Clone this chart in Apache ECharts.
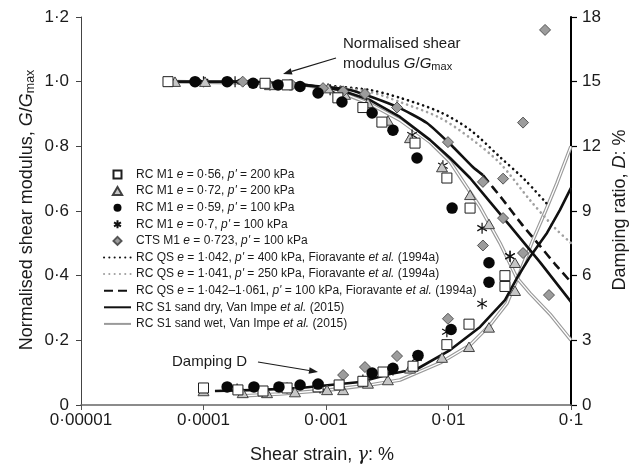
<!DOCTYPE html>
<html>
<head>
<meta charset="utf-8">
<script src="https://cdn.jsdelivr.net/npm/echarts@6/dist/echarts.min.js"></script>
<style>
  html, body { margin: 0; padding: 0; background: #fff; }
  #chart { width: 632px; height: 466px; }
</style>
</head>
<body>
<div id="chart"></div>
<script>
// ---- axis ticks ----
const strainTicks = [0.00001, 0.0001, 0.001, 0.01, 0.1];
const modulusTicks = [0, 0.2, 0.4, 0.6, 0.8, 1.0, 1.2];
const dampingTicks = [0, 3, 6, 9, 12, 15, 18];

// ---- measured points: [shear strain %, G/Gmax] and [shear strain %, D %] ----
const m056G = [[5.13e-5,1.0],[3.18e-4,0.995],[4.81e-4,0.99],[1.25e-3,0.95],[2.0e-3,0.92],[2.86e-3,0.875],[5.33e-3,0.81],[9.7e-3,0.702],[1.5e-2,0.609],[2.89e-2,0.40]];
const m056D = [[1.0e-4,0.79],[1.91e-4,0.70],[3.06e-4,0.65],[4.81e-4,0.79],[8.61e-4,0.84],[1.28e-3,0.93],[2.0e-3,1.1],[2.92e-3,1.53],[5.13e-3,1.8],[9.7e-3,2.8],[1.47e-2,3.75],[2.89e-2,5.5]];

const m072G = [[5.85e-5,1.0],[1.03e-4,1.0],[3.49e-4,0.99],[1.04e-3,0.98],[1.43e-3,0.96],[2.2e-3,0.934],[3.2e-3,0.88],[4.85e-3,0.826],[8.85e-3,0.736],[1.5e-2,0.65],[2.14e-2,0.56],[3.49e-2,0.44]];
const m072D = [[1.0e-4,0.65],[2.09e-4,0.56],[3.3e-4,0.56],[5.58e-4,0.6],[1.02e-3,0.7],[1.38e-3,0.7],[2.2e-3,1.0],[3.2e-3,1.16],[4.85e-3,1.7],[8.85e-3,2.2],[1.47e-2,2.7],[2.14e-2,3.6],[3.49e-2,5.3]];

const m059G = [[8.53e-5,1.0],[1.56e-4,1.0],[2.54e-4,0.995],[4.06e-4,0.99],[6.14e-4,0.985],[8.61e-4,0.965],[1.35e-3,0.937],[2.38e-3,0.903],[3.52e-3,0.85],[5.53e-3,0.764],[1.07e-2,0.609],[2.14e-2,0.44]];
const m059D = [[1.56e-4,0.84],[2.58e-4,0.84],[4.13e-4,0.84],[6.14e-4,0.93],[8.61e-4,0.97],[2.38e-3,1.48],[3.52e-3,1.7],[5.64e-3,2.3],[1.05e-2,3.5],[2.14e-2,5.7]];

const m07G = [[1.0e-4,1.0],[1.81e-4,1.0],[3.49e-4,0.99],[5.09e-4,0.99],[1.08e-3,0.975],[5.04e-3,0.835],[9.0e-3,0.74],[1.88e-2,0.547],[3.18e-2,0.46]];
const m07D = [[1.88e-4,0.74],[4.81e-4,0.79],[8.94e-4,0.79],[2.0e-3,1.16],[3.52e-3,1.62],[5.53e-3,2.18],[9.7e-3,3.4],[1.88e-2,4.7],[3.18e-2,6.9]];

const ctsG = [[2.09e-4,1.0],[5.28e-4,0.99],[9.46e-4,0.98],[1.38e-3,0.97],[2.08e-3,0.962],[3.8e-3,0.92],[9.9e-3,0.813],[1.91e-2,0.69],[2.79e-2,0.578],[4.06e-2,0.47],[6.61e-2,0.34]];
const ctsD = [[1.38e-3,1.39],[2.08e-3,1.76],[3.8e-3,2.27],[9.9e-3,4.0],[1.91e-2,7.4],[2.79e-2,10.5],[4.06e-2,13.1],[6.14e-2,17.4]];

// ---- published curves ----
const qs400G = [[1.08e-3,0.987],[2.29e-3,0.974],[4.02e-3,0.95],[8.53e-3,0.906],[1.5e-2,0.851],[2.63e-2,0.767],[4.21e-2,0.696],[6.37e-2,0.622]];
const qs250G = [[1.08e-3,0.984],[2.29e-3,0.968],[4.02e-3,0.937],[8.53e-3,0.888],[1.5e-2,0.826],[2.63e-2,0.748],[4.62e-2,0.634],[7.4e-2,0.547],[0.1,0.501]];
const qs100GLow = [[6.14e-4,0.99],[1.57e-3,0.974],[3.8e-3,0.922],[6.67e-3,0.872],[1.09e-2,0.798],[1.58e-2,0.736],[1.91e-2,0.711]];
const qs100GHigh = [[1.91e-2,0.711],[2.79e-2,0.634],[4.06e-2,0.554],[5.58e-2,0.492],[7.4e-2,0.436],[0.1,0.38]];
const s1dryG = [[5.85e-5,1.0],[2.4e-4,1.0],[6.14e-4,0.993],[1.3e-3,0.974],[2.29e-3,0.943],[4.02e-3,0.891],[7.06e-3,0.82],[1.03e-2,0.764],[1.5e-2,0.702],[2.18e-2,0.628],[3.18e-2,0.554],[5.58e-2,0.442],[0.1,0.319]];
const s1wetG = [[5.85e-5,1.0],[6.14e-4,0.993],[1.3e-3,0.968],[2.29e-3,0.931],[4.02e-3,0.881],[7.06e-3,0.813],[1.03e-2,0.752],[1.29e-2,0.696],[1.81e-2,0.612],[2.63e-2,0.501],[3.62e-2,0.393],[4.62e-2,0.346],[6.74e-2,0.281],[0.1,0.201]];
const s1dryD = [[1.24e-4,0.65],[2.89e-4,0.70],[6.14e-4,0.79],[1.08e-3,0.93],[1.9e-3,1.07],[3.33e-3,1.44],[5.53e-3,1.67],[1.03e-2,2.55],[1.81e-2,3.62],[2.89e-2,4.87],[3.62e-2,5.89],[4.62e-2,6.87],[6.37e-2,7.98],[8.13e-2,9.05],[0.1,10.07]];
const s1wetD = [[1.99e-4,0.42],[4.21e-4,0.51],[1.08e-3,0.70],[2.29e-3,0.93],[4.02e-3,1.16],[8.53e-3,1.95],[1.5e-2,2.78],[2.18e-2,3.71],[3.01e-2,4.73],[3.84e-2,6.17],[4.89e-2,7.65],[6.14e-2,8.95],[7.69e-2,10.3],[0.1,12.0]];

// ---- legend labels ----
const legendNames = ['m056','m072','m059','m07','cts','qs400','qs250','qs100','s1dry','s1wet'];
const legendLabels = {
  m056: "RC M1 {i|e} = 0·56, {i|p'} = 200 kPa",
  m072: "RC M1 {i|e} = 0·72, {i|p'} = 200 kPa",
  m059: "RC M1 {i|e} = 0·59, {i|p'} = 100 kPa",
  m07:  "RC M1 {i|e} = 0·7, {i|p'} = 100 kPa",
  cts:  "CTS M1 {i|e} = 0·723, {i|p'} = 100 kPa",
  qs400: "RC QS {i|e} = 1·042, {i|p'} = 400 kPa, Fioravante {i|et al.} (1994a)",
  qs250: "RC QS {i|e} = 1·041, {i|p'} = 250 kPa, Fioravante {i|et al.} (1994a)",
  qs100: "RC QS {i|e} = 1·042–1·061, {i|p'} = 100 kPa, Fioravante {i|et al.} (1994a)",
  s1dry: "RC S1 sand dry, Van Impe {i|et al.} (2015)",
  s1wet: "RC S1 sand wet, Van Impe {i|et al.} (2015)"
};

const FONT = '"Liberation Sans", Arial, Helvetica, sans-serif';
const INK = '#1a1a1a';
// marker outlines as paths so that they keep their proportions everywhere
const SQUARE = 'path://M0,0H1V1H0Z';
const TRIANGLE = 'path://M0,0L0.58,1L-0.58,1Z';
const DIAMOND = 'path://M0,-1L1,0L0,1L-1,0Z';
const STAR = 'path://M0,-1L0,1M-0.866,-0.5L0.866,0.5M-0.866,0.5L0.866,-0.5';

function dotFmt(v) {
  return v === 0 ? '0' : v.toFixed(1).replace('.', '·');
}
function strainFmt(v) {
  const e = Math.round(Math.log10(v));
  return '0·' + '0'.repeat(-e - 1) + '1';
}

function pointSeries(name, data, axis, symbol, size, style, z) {
  return {
    name, type: 'scatter', data, yAxisIndex: axis, symbol, symbolSize: size,
    symbolKeepAspect: true, itemStyle: Object.assign({ opacity: 1 }, style), z, silent: true
  };
}
function curve(name, data, axis, lineStyle, z, smooth) {
  return {
    name, type: 'line', data, yAxisIndex: axis, symbol: 'none', showSymbol: false,
    lineStyle, itemStyle: { color: lineStyle.color, opacity: 0 },
    z, smooth: smooth || false, silent: true, animation: false
  };
}

const sqStyle = { color: '#ffffff', borderColor: '#1e1e1e', borderWidth: 1 };
const triStyle = { color: '#c6c6c6', borderColor: '#404040', borderWidth: 1 };
const cirStyle = { color: '#080808' };
const starStyle = { color: 'rgba(0,0,0,0)', borderColor: '#111', borderWidth: 1.2 };
const diaStyle = { color: '#9c9c9c', borderColor: '#555', borderWidth: 1 };

const dotBlack = { color: '#111', width: 2.6, type: [0.1, 5.2], cap: 'round' };
const dotGrey = { color: '#a0a0a0', width: 2.6, type: [0.1, 5.2], cap: 'round' };
const dashBlack = { color: '#111', width: 2.6, type: [9, 5] };
const solidBlack = { color: '#111', width: 2.6 };
const wetOuter = { color: '#9a9a9a', width: 3.6 };
const wetCore = { color: '#ffffff', width: 1.3 };

const series = [
  curve('qs400', qs400G, 0, dotBlack, 2, 0.3),
  curve('qs250', qs250G, 0, dotGrey, 2, 0.3),
  curve('qs100', qs100GHigh, 0, dashBlack, 2, 0.2),
  curve('qs100 low', qs100GLow, 0, solidBlack, 2, 0.2),
  curve('s1wet', s1wetG, 0, wetOuter, 1),
  curve('s1wet', s1wetD, 1, wetOuter, 1),
  curve('s1wet core', s1wetG, 0, wetCore, 1),
  curve('s1wet core', s1wetD, 1, wetCore, 1),
  curve('s1dry', s1dryG, 0, solidBlack, 2),
  curve('s1dry', s1dryD, 1, solidBlack, 2),

  pointSeries('m07', m07G, 0, STAR, 11, starStyle, 3),
  pointSeries('m07', m07D, 1, STAR, 11, starStyle, 3),
  pointSeries('m072', m072G, 0, TRIANGLE, 11, triStyle, 4),
  pointSeries('m072', m072D, 1, TRIANGLE, 11, triStyle, 4),
  pointSeries('cts', ctsG, 0, DIAMOND, 11, diaStyle, 5),
  pointSeries('cts', ctsD, 1, DIAMOND, 11, diaStyle, 5),
  pointSeries('m056', m056G, 0, SQUARE, 10, sqStyle, 6),
  pointSeries('m056', m056D, 1, SQUARE, 10, sqStyle, 6),
  pointSeries('m059', m059G, 0, 'circle', 11.5, cirStyle, 7),
  pointSeries('m059', m059D, 1, 'circle', 11.5, cirStyle, 7)
];

// arrow made of a shaft and a filled head, given in pixels
function arrow(x1, y1, x2, y2) {
  const a = Math.atan2(y2 - y1, x2 - x1);
  const L = 9, W = 3.2;
  const bx = x2 - L * Math.cos(a), by = y2 - L * Math.sin(a);
  const px = -Math.sin(a) * W, py = Math.cos(a) * W;
  return [
    { type: 'line', shape: { x1, y1, x2: bx, y2: by }, style: { stroke: INK, lineWidth: 1.2 }, silent: true },
    { type: 'polygon', shape: { points: [[x2, y2], [bx + px, by + py], [bx - px, by - py]] }, style: { fill: INK }, silent: true }
  ];
}

const option = {
  animation: false,
  backgroundColor: '#ffffff',
  textStyle: { fontFamily: FONT },
  grid: { left: 81, right: 61, top: 17, bottom: 61, outerBoundsMode: 'none' },
  legend: {
    data: legendNames,
    orient: 'vertical',
    left: 98, top: 163,
    itemWidth: 27, itemHeight: 8, itemGap: 3.6,
    selectedMode: false,
    formatter: n => legendLabels[n],
    textStyle: {
      fontFamily: FONT, fontSize: 12, color: INK, lineHeight: 13,
      rich: { i: { fontStyle: 'italic', fontFamily: FONT, fontSize: 12, lineHeight: 13 } }
    }
  },
  xAxis: {
    type: 'log', logBase: 10,
    min: strainTicks[0], max: strainTicks[strainTicks.length - 1],
    axisLine: { lineStyle: { color: '#666', width: 1.5 } },
    axisTick: { show: true, length: 5, lineStyle: { color: '#555' } },
    minorTick: { show: false },
    splitLine: { show: false },
    axisLabel: { formatter: strainFmt, fontSize: 17, color: INK, margin: 7, fontFamily: FONT }
  },
  yAxis: [
    {
      type: 'value', min: modulusTicks[0], max: modulusTicks[modulusTicks.length - 1], interval: 0.2,
      axisLine: { show: true, lineStyle: { color: '#444', width: 1 } },
      axisTick: { show: true, length: 5, lineStyle: { color: '#444' } },
      splitLine: { show: false },
      axisLabel: { formatter: dotFmt, fontSize: 17, color: INK, margin: 12, fontFamily: FONT }
    },
    {
      type: 'value', position: 'right', min: dampingTicks[0], max: dampingTicks[dampingTicks.length - 1], interval: 3,
      axisLine: { show: true, lineStyle: { color: '#000', width: 2 } },
      axisTick: { show: true, length: 6, lineStyle: { color: '#000', width: 1.2 } },
      splitLine: { show: false },
      axisLabel: { fontSize: 17, color: INK, margin: 11, fontFamily: FONT }
    }
  ],
  series,
  graphic: [
    {
      type: 'text', x: 27, y: 210, rotation: Math.PI / 2, silent: true,
      style: {
        text: 'Normalised shear modulus, {i|G}/{i|G}{s|max}',
        fontSize: 18, fontFamily: FONT, fill: INK, align: 'center', verticalAlign: 'middle',
        rich: {
          i: { fontStyle: 'italic', fontFamily: FONT, fontSize: 18 },
          s: { fontSize: 12.5, fontFamily: FONT, verticalAlign: 'bottom', padding: [7, 0, 0, 0] }
        }
      }
    },
    {
      type: 'text', x: 620, y: 210, rotation: Math.PI / 2, silent: true,
      style: {
        text: 'Damping ratio, {i|D}: %',
        fontSize: 18, fontFamily: FONT, fill: INK, align: 'center', verticalAlign: 'middle',
        rich: { i: { fontStyle: 'italic', fontFamily: FONT, fontSize: 18 } }
      }
    },
    {
      type: 'text', x: 322, y: 455, silent: true,
      style: {
        text: 'Shear strain, {g|γ}: %',
        fontSize: 18, fontFamily: FONT, fill: INK, align: 'center', verticalAlign: 'middle',
        rich: { g: { fontStyle: 'italic', fontFamily: '"DejaVu Serif", "Liberation Serif", serif', fontSize: 18 } }
      }
    },
    {
      type: 'text', x: 343, y: 44, silent: true,
      style: { text: 'Normalised shear', fontSize: 15, fontFamily: FONT, fill: INK, align: 'left', verticalAlign: 'middle' }
    },
    {
      type: 'text', x: 343, y: 64, silent: true,
      style: {
        text: 'modulus {i|G}/{i|G}{s|max}',
        fontSize: 15, fontFamily: FONT, fill: INK, align: 'left', verticalAlign: 'middle',
        rich: {
          i: { fontStyle: 'italic', fontFamily: FONT, fontSize: 15 },
          s: { fontSize: 11, fontFamily: FONT, verticalAlign: 'bottom', padding: [6, 0, 0, 0] }
        }
      }
    },
    ...arrow(336, 58, 283, 74),
    {
      type: 'text', x: 172, y: 362, silent: true,
      style: { text: 'Damping D', fontSize: 15, fontFamily: FONT, fill: INK, align: 'left', verticalAlign: 'middle' }
    },
    ...arrow(258, 362, 318, 372)
  ]
};

const chart = echarts.init(document.getElementById('chart'), null, { renderer: 'canvas' });
chart.setOption(option);
</script>
</body>
</html>
